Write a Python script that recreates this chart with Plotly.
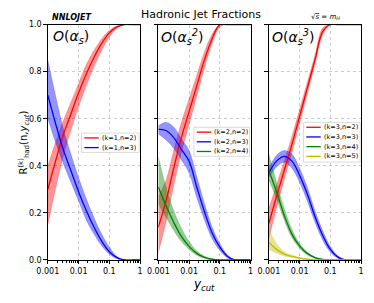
import plotly.graph_objects as go

# ---------------- data ----------------
log_y = [-3, -2.75, -2.5, -2.25, -2, -1.75, -1.5, -1.25, -1, -0.75, -0.5, -0.25, 0]
ycut = [10 ** v for v in log_y]

# k=1
k1n2 = [0.30, 0.42, 0.53, 0.62, 0.71, 0.79, 0.86, 0.92, 0.965, 0.99, 1.0, 1.0, 1.0]
k1n2_lo = [0.15, 0.30, 0.44, 0.55, 0.65, 0.74, 0.82, 0.89, 0.945, 0.985, 1.0, 1.0, 1.0]
k1n2_hi = [0.40, 0.50, 0.59, 0.67, 0.75, 0.83, 0.89, 0.94, 0.975, 0.995, 1.0, 1.0, 1.0]
k1n3 = [0.70, 0.58, 0.47, 0.38, 0.29, 0.21, 0.14, 0.08, 0.035, 0.01, 0.0, 0.0, 0.0]
k1n3_lo = [0.60, 0.50, 0.41, 0.33, 0.25, 0.17, 0.11, 0.06, 0.025, 0.005, 0.0, 0.0, 0.0]
k1n3_hi = [0.85, 0.70, 0.56, 0.45, 0.35, 0.26, 0.18, 0.11, 0.055, 0.015, 0.0, 0.0, 0.0]

# k=2
k2n2 = [0.14, 0.25, 0.39, 0.52, 0.63, 0.74, 0.85, 0.94, 1.0, 1.0, 1.0, 1.0, 1.0]
k2n2_lo = [0.03, 0.16, 0.315, 0.455, 0.575, 0.695, 0.815, 0.92, 0.99, 1.0, 1.0, 1.0, 1.0]
k2n2_hi = [0.27, 0.34, 0.465, 0.585, 0.685, 0.785, 0.885, 0.96, 1.0, 1.0, 1.0, 1.0, 1.0]
k2n3 = [0.555, 0.55, 0.52, 0.47, 0.42, 0.31, 0.205, 0.115, 0.055, 0.015, 0.0, 0.0, 0.0]
k2n3_lo = [0.535, 0.51, 0.475, 0.425, 0.37, 0.265, 0.17, 0.09, 0.04, 0.008, 0.0, 0.0, 0.0]
k2n3_hi = [0.57, 0.585, 0.565, 0.515, 0.465, 0.355, 0.24, 0.14, 0.07, 0.022, 0.0, 0.0, 0.0]
k2n4 = [0.31, 0.23, 0.16, 0.10, 0.058, 0.028, 0.011, 0.003, 0.0, 0.0, 0.0, 0.0, 0.0]
k2n4_lo = [0.24, 0.18, 0.125, 0.078, 0.044, 0.02, 0.007, 0.001, 0.0, 0.0, 0.0, 0.0, 0.0]
k2n4_hi = [0.44, 0.31, 0.21, 0.135, 0.078, 0.038, 0.016, 0.005, 0.0, 0.0, 0.0, 0.0, 0.0]

# k=3
k3n2 = [0.155, 0.27, 0.38, 0.49, 0.61, 0.73, 0.85, 0.97, 1.0, 1.0, 1.0, 1.0, 1.0]
k3n2_lo = [0.09, 0.22, 0.34, 0.455, 0.58, 0.705, 0.83, 0.955, 1.0, 1.0, 1.0, 1.0, 1.0]
k3n2_hi = [0.22, 0.32, 0.42, 0.525, 0.64, 0.755, 0.87, 0.985, 1.0, 1.0, 1.0, 1.0, 1.0]
k3n3 = [0.37, 0.42, 0.44, 0.42, 0.36, 0.28, 0.185, 0.105, 0.045, 0.012, 0.0, 0.0, 0.0]
k3n3_lo = [0.35, 0.395, 0.415, 0.39, 0.33, 0.25, 0.16, 0.085, 0.033, 0.007, 0.0, 0.0, 0.0]
k3n3_hi = [0.39, 0.445, 0.465, 0.45, 0.39, 0.31, 0.21, 0.125, 0.057, 0.017, 0.0, 0.0, 0.0]
k3n4 = [0.38, 0.29, 0.19, 0.11, 0.06, 0.028, 0.01, 0.002, 0.0, 0.0, 0.0, 0.0, 0.0]
k3n4_lo = [0.34, 0.26, 0.17, 0.095, 0.05, 0.022, 0.007, 0.001, 0.0, 0.0, 0.0, 0.0, 0.0]
k3n4_hi = [0.45, 0.33, 0.22, 0.13, 0.07, 0.034, 0.013, 0.004, 0.0, 0.0, 0.0, 0.0, 0.0]
k3n5 = [0.075, 0.045, 0.025, 0.015, 0.008, 0.003, 0.0, 0.0, 0.0, 0.0, 0.0, 0.0, 0.0]
k3n5_lo = [0.045, 0.03, 0.017, 0.01, 0.005, 0.002, 0.0, 0.0, 0.0, 0.0, 0.0, 0.0, 0.0]
k3n5_hi = [0.13, 0.07, 0.035, 0.02, 0.011, 0.004, 0.0, 0.0, 0.0, 0.0, 0.0, 0.0, 0.0]

x_ticks = [0.001, 0.01, 0.1, 1]
x_tick_labels = ["0.001", "0.01", "0.1", "1"]
y_ticks = [0, 0.2, 0.4, 0.6, 0.8, 1.0]
y_tick_labels = ["0.0", "0.2", "0.4", "0.6", "0.8", "1.0"]
minor_x = [m * 10 ** e for e in (-3, -2, -1) for m in range(2, 10)]

panel_titles = ["<i>O</i>(<i>α<sub>s</sub></i>)",
                "<i>O</i>(<i>α<sub>s</sub><sup>2</sup></i>)",
                "<i>O</i>(<i>α<sub>s</sub><sup>3</sup></i>)"]

COL = {2: (255, 0, 0), 3: (0, 0, 255), 4: (0, 128, 0), 5: (191, 191, 0)}

panels = [
    [(1, 2, k1n2, k1n2_lo, k1n2_hi), (1, 3, k1n3, k1n3_lo, k1n3_hi)],
    [(2, 2, k2n2, k2n2_lo, k2n2_hi), (2, 3, k2n3, k2n3_lo, k2n3_hi), (2, 4, k2n4, k2n4_lo, k2n4_hi)],
    [(3, 2, k3n2, k3n2_lo, k3n2_hi), (3, 3, k3n3, k3n3_lo, k3n3_hi), (3, 4, k3n4, k3n4_lo, k3n4_hi),
     (3, 5, k3n5, k3n5_lo, k3n5_hi)],
]

# page has an 8px body margin; size the figure so it fits the window exactly
PAGE_W, PAGE_H, OFF = 374, 303, 8
W, H = PAGE_W - 2 * OFF, PAGE_H - 2 * OFF
x_dom_px = [(38, 134), (153, 249), (268, 364)]
y_dom_px = (21, 264)


def px(x):
    return (x - OFF) / W


def py(y):
    return 1 - (y - OFF) / H


fig = go.Figure()

for i, series in enumerate(panels):
    xa = "x" if i == 0 else f"x{i+1}"
    ya = "y" if i == 0 else f"y{i+1}"
    for k, n, c, lo, hi in series:
        r, g, b = COL[n]
        fig.add_trace(go.Scatter(x=ycut, y=lo, xaxis=xa, yaxis=ya, mode="lines",
                                 line=dict(color=f"rgba({r},{g},{b},0.35)", width=0.5, shape="spline"),
                                 showlegend=False, hoverinfo="skip"))
        fig.add_trace(go.Scatter(x=ycut, y=hi, xaxis=xa, yaxis=ya, mode="lines", fill="tonexty",
                                 fillcolor=f"rgba({r},{g},{b},0.42)",
                                 line=dict(color=f"rgba({r},{g},{b},0.35)", width=0.5, shape="spline"),
                                 showlegend=False, hoverinfo="skip"))
    for k, n, c, lo, hi in series:
        r, g, b = COL[n]
        fig.add_trace(go.Scatter(x=ycut, y=c, xaxis=xa, yaxis=ya, mode="lines",
                                 line=dict(color=f"rgb({r},{g},{b})", width=1.3, shape="spline"),
                                 name=f"(k={k},n={n})", showlegend=False))

FONT = "DejaVu Sans"
layout = dict(
    width=W, height=H, margin=dict(l=0, r=0, t=0, b=0),
    paper_bgcolor="white", plot_bgcolor="white",
    font=dict(family=FONT, size=8, color="black"),
    showlegend=False,
)
for i in range(3):
    sx = "" if i == 0 else str(i + 1)
    layout[f"xaxis{sx}"] = dict(
        type="log", range=[-3, 0], domain=[px(x_dom_px[i][0]), px(x_dom_px[i][1])],
        anchor=f"y{sx}", tickvals=x_ticks, ticktext=x_tick_labels,
        ticks="outside", ticklen=3.5, tickwidth=0.8, tickcolor="black",
        showline=True, linecolor="black", linewidth=1, mirror=True,
        showgrid=True, gridcolor="rgba(190,190,190,0.8)", griddash="dot", gridwidth=0.6,
        minor=dict(tickvals=minor_x, ticks="outside", ticklen=2, tickwidth=0.6, tickcolor="black",
                   showgrid=False),
        tickfont=dict(size=8), zeroline=False,
    )
    layout[f"yaxis{sx}"] = dict(
        range=[0, 1], domain=[py(y_dom_px[1]), py(y_dom_px[0])], anchor=f"x{sx}",
        tickvals=y_ticks, ticktext=y_tick_labels, showticklabels=(i == 0),
        ticks="outside", ticklen=3.5, tickwidth=0.8, tickcolor="black",
        showline=True, linecolor="black", linewidth=1, mirror=True,
        showgrid=True, gridcolor="rgba(190,190,190,0.8)", griddash="dot", gridwidth=0.6,
        tickfont=dict(size=8), zeroline=False,
    )
fig.update_layout(**layout)

ann = []
shapes = []
ann.append(dict(text="Hadronic Jet Fractions", x=px(197), y=py(11), xref="paper", yref="paper",
                showarrow=False, font=dict(size=11), xanchor="center", yanchor="middle"))
ann.append(dict(text="<b><i>NNLOJET</i></b>", x=px(63), y=py(14), xref="paper", yref="paper",
                showarrow=False, font=dict(size=8), xanchor="center", yanchor="middle"))
ann.append(dict(text="√<span style='text-decoration:overline'><i>s</i></span> = <i>m<sub>H</sub></i>",
                x=px(327), y=py(13), xref="paper", yref="paper",
                showarrow=False, font=dict(size=7), xanchor="center", yanchor="middle"))
title_cx = [62, 178, 294]
for i in range(3):
    ann.append(dict(text=panel_titles[i], x=px(title_cx[i]), y=py(34), xref="paper", yref="paper",
                    showarrow=False, font=dict(size=14), xanchor="center", yanchor="middle"))
ann.append(dict(text="R<sup>(k)</sup><sub>had</sub>(n,<i>y<sub>cut</sub></i>)", x=px(13), y=py(143),
                xref="paper", yref="paper", showarrow=False, textangle=-90,
                font=dict(size=10), xanchor="center", yanchor="middle"))
ann.append(dict(text="<i>y<sub>cut</sub></i>", x=px(201), y=py(290), xref="paper", yref="paper",
                showarrow=False, font=dict(size=12), xanchor="center", yanchor="middle"))

# legends (manual boxes)
legend_boxes = [(73, 133, 133, 153), (190, 127, 248, 157), (304, 122, 363, 163)]
legend_rows = [[138, 148], [132, 142, 152], [127, 137, 147, 157]]
for i, series in enumerate(panels):
    x0, y0, x1, y1 = legend_boxes[i]
    shapes.append(dict(type="rect", xref="paper", yref="paper", x0=px(x0), x1=px(x1), y0=py(y0), y1=py(y1),
                       fillcolor="rgba(255,255,255,0.85)", line=dict(color="rgb(210,210,210)", width=0.8),
                       layer="above"))
    for (k, n, c, lo, hi), ry in zip(series, legend_rows[i]):
        r, g, b = COL[n]
        shapes.append(dict(type="line", xref="paper", yref="paper", x0=px(x0 + 3), x1=px(x0 + 18),
                           y0=py(ry), y1=py(ry), line=dict(color=f"rgb({r},{g},{b})", width=1.3),
                           layer="above"))
        ann.append(dict(text=f"(k={k},n={n})", x=px(x0 + 39), y=py(ry), xref="paper", yref="paper",
                        showarrow=False, font=dict(size=6.5), xanchor="center", yanchor="middle"))

fig.update_layout(annotations=ann, shapes=shapes)
fig.write_html("out.html")
